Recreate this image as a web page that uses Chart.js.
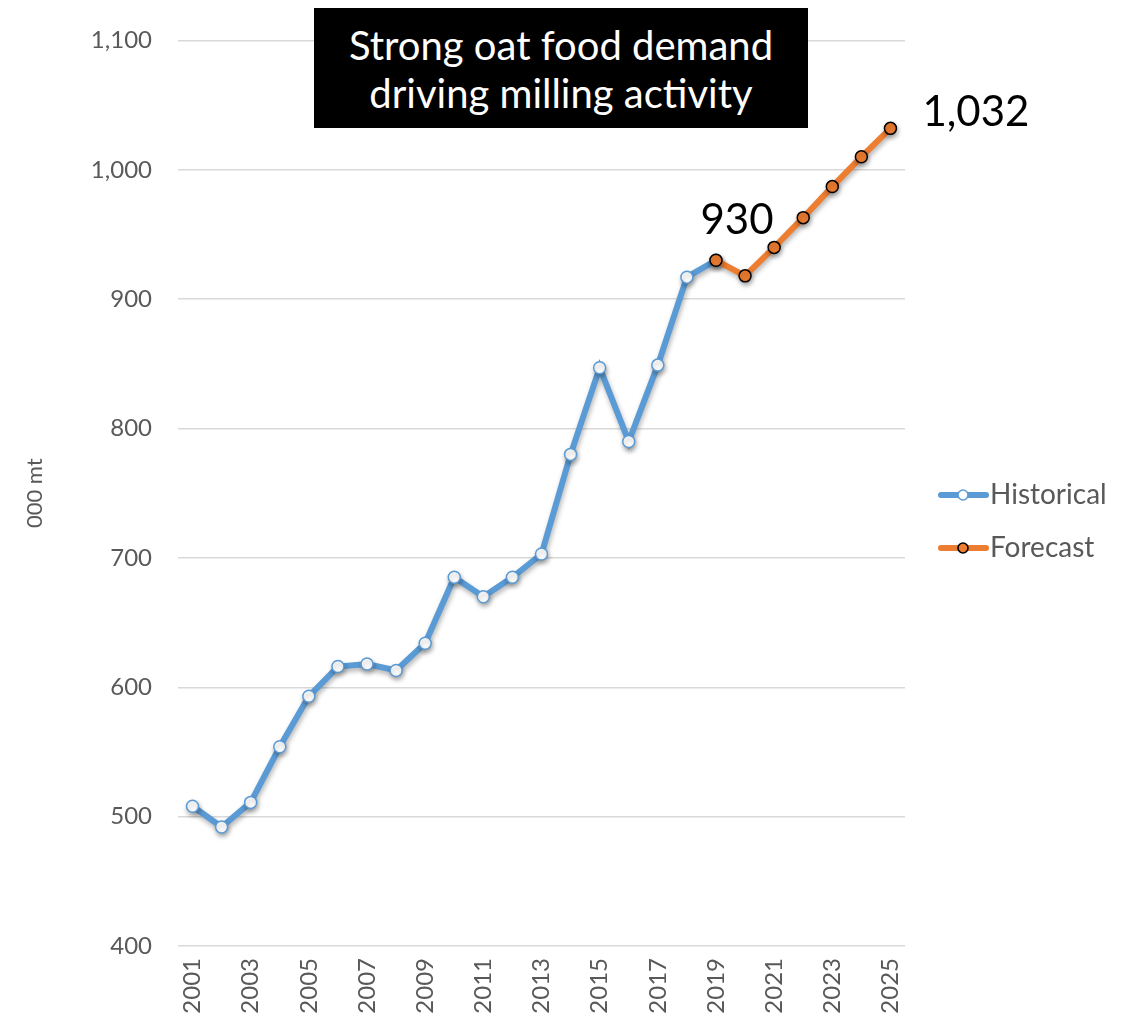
<!DOCTYPE html>
<html>
<head>
<meta charset="utf-8">
<script src="https://cdn.jsdelivr.net/npm/chart.js@4.4.1/dist/chart.umd.min.js"></script>
<style>
  html, body { margin: 0; padding: 0; background: #fff; }
  #wrap { position: relative; width: 1138px; height: 1022px; }
  #titleBox {
    position: absolute; left: 314px; top: 8px; width: 494px; height: 120px;
    background: #000; color: #fff; font-family: Lato, sans-serif; font-size: 40px;
    line-height: 48px; text-align: center; box-sizing: border-box; padding-top: 13px;
  }
</style>
</head>
<body>
<div id="wrap">
  <canvas id="oatChart" width="1138" height="1022"></canvas>
  <div id="titleBox">Strong oat food demand<br>driving milling activity</div>
</div>
<script>
const years = ['2001', '2002', '2003', '2004', '2005', '2006', '2007', '2008', '2009', '2010',
    '2011', '2012', '2013', '2014', '2015', '2016', '2017', '2018', '2019', '2020',
    '2021', '2022', '2023', '2024', '2025'];

// 2001 - 2019
const historical = [508, 492, 511, 554, 593, 616, 618, 613, 634, 685,
    670, 685, 703, 780, 847, 790, 849, 917, 930];

// 2019 - 2025
const forecast = [930, 918, 940, 963, 987, 1010, 1032];

const yTicks = [400, 500, 600, 700, 800, 900, 1000, 1100];

const blue = '#5b9bd5';
const orange = '#ed7d31';
const grey = '#595959';

const histData = years.map((y, i) => (i < historical.length ? historical[i] : null));
const foreStart = years.length - forecast.length;
const foreData = years.map((y, i) => (i >= foreStart ? forecast[i - foreStart] : null));

// shadow under the lines
const shadowPlugin = {
    id: 'lineShadow',
    beforeDatasetsDraw(chart) {
        const ctx = chart.ctx;
        ctx.save();
        ctx.shadowColor = 'rgba(0,0,0,0.3)';
        ctx.shadowBlur = 5;
        ctx.shadowOffsetX = 1;
        ctx.shadowOffsetY = 3;
    },
    afterDatasetsDraw(chart) {
        chart.ctx.restore();
    }
};

// value labels + legend
const extrasPlugin = {
    id: 'extras',
    afterDraw(chart) {
        const ctx = chart.ctx;
        const xs = chart.scales.x;
        const ys = chart.scales.y;
        ctx.save();
        ctx.fillStyle = '#000';
        ctx.font = '42px Lato, sans-serif';
        ctx.textBaseline = 'middle';

        const i19 = foreStart;
        ctx.textAlign = 'center';
        ctx.fillText(String(forecast[0]), xs.getPixelForValue(i19) + 21, ys.getPixelForValue(forecast[0]) - 40);

        const last = forecast[forecast.length - 1];
        ctx.textAlign = 'left';
        ctx.fillText(last.toLocaleString('en-US'), xs.getPixelForValue(years.length - 1) + 32, ys.getPixelForValue(last) - 16);

        // legend
        const items = [
            { label: 'Historical', color: blue, fill: '#fff', border: blue, y: 495 },
            { label: 'Forecast', color: orange, fill: orange, border: '#000', y: 548 }
        ];
        items.forEach(it => {
            ctx.strokeStyle = it.color;
            ctx.lineWidth = 6;
            ctx.lineCap = 'round';
            ctx.beginPath();
            ctx.moveTo(941, it.y);
            ctx.lineTo(986, it.y);
            ctx.stroke();
            ctx.beginPath();
            ctx.arc(963, it.y, 5, 0, Math.PI * 2);
            ctx.fillStyle = it.fill;
            ctx.fill();
            ctx.lineWidth = 1.6;
            ctx.strokeStyle = it.border;
            ctx.stroke();
            ctx.fillStyle = grey;
            ctx.font = '28px Lato, sans-serif';
            ctx.textAlign = 'left';
            ctx.fillText(it.label, 990, it.y);
        });
        ctx.restore();
    }
};

const ctx = document.getElementById('oatChart').getContext('2d');
// eslint-disable-next-line no-undef
const oatChart = new Chart(ctx, {
    type: 'line',
    data: {
        labels: years,
        datasets: [
            {
                label: 'Historical',
                data: histData,
                borderColor: blue,
                backgroundColor: blue,
                borderWidth: 6,
                pointRadius: 6,
                pointBorderWidth: 1.5,
                pointBackgroundColor: '#fff',
                pointBorderColor: blue,
                tension: 0,
                order: 1
            },
            {
                label: 'Forecast',
                data: foreData,
                borderColor: orange,
                backgroundColor: orange,
                borderWidth: 6,
                pointRadius: 6,
                pointBorderWidth: 1.5,
                pointBackgroundColor: orange,
                pointBorderColor: '#000',
                tension: 0,
                order: 0
            }
        ]
    },
    options: {
        responsive: false,
        animation: false,
        layout: { padding: { top: 36, right: 233, left: 0, bottom: 0 } },
        plugins: {
            legend: { display: false },
            tooltip: { enabled: false }
        },
        scales: {
            x: {
                offset: true,
                grid: { display: false },
                border: { display: false },
                ticks: {
                    autoSkip: false,
                    maxRotation: 90,
                    minRotation: 90,
                    padding: 4,
                    color: grey,
                    font: { family: 'Lato, sans-serif', size: 24 },
                    callback(value, index) {
                        return index % 2 === 0 ? years[index] : '';
                    }
                },
                afterFit(scale) { scale.height = 76; }
            },
            y: {
                min: 400,
                max: 1100,
                afterBuildTicks(scale) {
                    scale.ticks = yTicks.map(v => ({ value: v }));
                },
                grid: { color: '#d9d9d9', lineWidth: 1.5, drawTicks: false },
                border: { display: false },
                ticks: {
                    padding: 26,
                    color: grey,
                    font: { family: 'Lato, sans-serif', size: 24 },
                    callback(value) { return value.toLocaleString('en-US'); }
                },
                title: {
                    display: true,
                    text: '000 mt',
                    color: grey,
                    font: { family: 'Lato, sans-serif', size: 22 },
                    padding: { top: 22, bottom: 0 }
                },
                afterFit(scale) { scale.width = 178; }
            }
        }
    },
    plugins: [shadowPlugin, extrasPlugin]
});
</script>
</body>
</html>
